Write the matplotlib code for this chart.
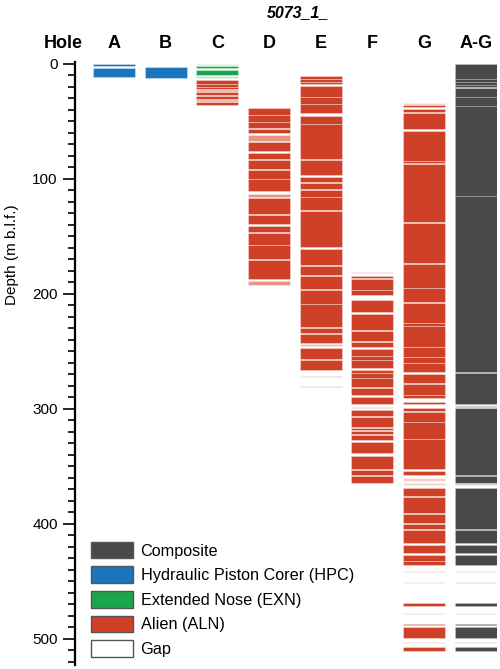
import matplotlib
matplotlib.use('Agg')
import matplotlib.pyplot as plt
from matplotlib.patches import Patch
from matplotlib.transforms import blended_transform_factory

plt.rcParams['font.family'] = ['Liberation Sans', 'DejaVu Sans']

holes = ['A', 'B', 'C', 'D', 'E', 'F', 'G', 'A-G']

# recovered core intervals (top, bottom), m b.l.f.
hpc_a = [(0.3, 2.0), (3.5, 11.6)]
hpc_b = [(2.6, 12.7)]

exn_c = [(2.3, 4.0), (5.5, 10.2)]
exn_c_faint = [(0.0, 0.9), (10.7, 12.4)]
aln_c = [(14.2, 17.2), (17.7, 19.8), (20.3, 22.1), (22.6, 24.1), (24.6, 27.6),
         (28.1, 31.0), (31.5, 32.8), (33.3, 35.6)]

aln_d = [(38.5, 44.3), (44.3, 50.9), (50.9, 55.8), (56.7, 60.2), (68.3, 76.1),
         (77.5, 82.8), (83.6, 91.4), (92.3, 100.5), (100.5, 111.1), (116.9, 130.5),
         (131.7, 139.2), (140.9, 146.1), (147.0, 158.0), (158.0, 170.1),
         (171.0, 186.9)]
aln_d_faint = [(62.2, 66.8), (113.7, 115.7), (188.9, 192.4)]

aln_e = [(11.0, 13.3), (13.3, 16.2), (16.2, 17.6), (19.7, 28.6), (28.6, 35.0),
         (35.0, 42.5), (45.4, 52.4), (52.4, 82.8), (83.3, 97.2), (98.1, 103.2),
         (103.9, 108.8), (110.0, 115.5), (116.3, 127.0), (127.9, 159.4),
         (160.9, 175.3), (176.2, 184.0), (184.9, 196.3), (197.0, 208.6),
         (208.6, 229.2), (230.0, 234.1), (235.5, 242.8), (247.7, 257.2),
         (258.1, 266.5)]
aln_e_faint = [(244.2, 245.4), (271.7, 272.6), (280.5, 281.5)]

aln_f = [(184.6, 186.3), (187.5, 196.5), (197.0, 201.1), (205.2, 215.9),
         (217.3, 231.8), (232.9, 241.0), (242.2, 246.8), (248.0, 254.1),
         (254.1, 257.8), (257.8, 265.0), (266.5, 269.4), (269.4, 273.7),
         (273.7, 281.0), (282.4, 288.5), (289.6, 296.0), (301.5, 306.4),
         (307.6, 316.0), (316.8, 318.6), (319.4, 322.0), (322.6, 327.0),
         (328.7, 338.8), (340.9, 352.4), (353.3, 357.6), (358.8, 364.3)]
aln_f_faint = [(181.1, 182.3), (298.6, 299.8)]

aln_g = [(36.2, 37.9), (39.6, 42.0), (43.1, 57.0), (58.2, 84.2), (84.8, 86.6),
         (87.3, 138.0), (138.6, 173.3), (173.8, 194.7), (195.2, 207.2),
         (207.7, 225.4), (225.9, 228.0), (228.5, 246.2), (246.7, 254.9),
         (255.4, 260.1), (260.6, 268.5), (270.0, 278.0), (278.5, 288.2),
         (288.2, 290.5), (294.0, 296.3), (299.8, 302.1), (303.2, 311.8),
         (311.8, 326.6), (326.6, 352.4), (353.9, 357.6), (369.2, 376.4),
         (376.8, 390.9), (391.3, 399.6), (400.0, 404.8), (406.0, 417.0),
         (418.4, 425.6), (427.1, 432.9), (432.9, 436.3), (469.0, 471.4),
         (487.0, 488.4), (489.9, 499.4), (507.5, 510.5)]
aln_g_faint = [(34.4, 35.6), (360.0, 362.8), (364.9, 366.3), (441.6, 442.2),
               (448.8, 449.4), (450.8, 451.4), (454.0, 454.6), (474.8, 475.4),
               (477.7, 478.3), (502.9, 503.5)]

composite = [(0.0, 13.0), (13.6, 15.6), (16.2, 18.3), (18.9, 20.4), (21.0, 28.6),
             (28.6, 36.5), (36.5, 115.2), (115.2, 268.0), (268.6, 295.8),
             (299.8, 357.6), (358.8, 364.3), (369.2, 404.8), (405.6, 417.0),
             (418.4, 425.6), (427.1, 436.3), (469.0, 471.4), (487.0, 488.4),
             (489.9, 499.4), (507.5, 510.5)]
composite_faint = [(297.0, 299.2), (364.9, 366.3), (441.6, 442.2), (448.8, 449.4),
                   (450.8, 451.4), (454.0, 454.6), (474.8, 475.4), (477.7, 478.3),
                   (502.9, 503.5)]

c_comp = '#48494b'
c_hpc = '#1a75bc'
c_exn = '#1aa64a'
c_aln = '#cf4029'

legend_labels = ['Composite', 'Hydraulic Piston Corer (HPC)', 'Extended Nose (EXN)',
                 'Alien (ALN)', 'Gap']
legend_colors = [c_comp, c_hpc, c_exn, c_aln, 'white']


def draw(ax, x, intervals, color, alpha=1.0, edge_alpha=0.45):
    tops = [t for t, b in intervals]
    lens = [b - t for t, b in intervals]
    bars = ax.bar([x] * len(intervals), lens, bottom=tops, width=0.81,
                  color=color, linewidth=0.5)
    for b in bars:
        b.set_facecolor(matplotlib.colors.to_rgba(color, alpha))
        b.set_edgecolor((1, 1, 1, edge_alpha))


fig = plt.figure(figsize=(5, 6.69), dpi=100)
ax = fig.add_axes([0.15, 0.006, 0.844, 0.9013])

draw(ax, 0, hpc_a, c_hpc)
draw(ax, 1, hpc_b, c_hpc)
draw(ax, 2, exn_c, c_exn)
draw(ax, 2, exn_c_faint, c_exn, 0.3)
draw(ax, 2, aln_c, c_aln)
draw(ax, 3, aln_d, c_aln)
draw(ax, 3, aln_d_faint, c_aln, 0.55)
draw(ax, 4, aln_e, c_aln)
draw(ax, 4, aln_e_faint, c_aln, 0.35)
draw(ax, 5, aln_f, c_aln)
draw(ax, 5, aln_f_faint, c_aln, 0.35)
draw(ax, 6, aln_g, c_aln)
draw(ax, 6, aln_g_faint, c_aln, 0.25)
draw(ax, 7, composite, c_comp, edge_alpha=0.22)
draw(ax, 7, composite_faint, c_comp, 0.25)

ax.set_xlim(-0.754, 7.41)
ax.set_ylim(523, -1.5)

for s in ['top', 'right', 'bottom']:
    ax.spines[s].set_visible(False)
ax.spines['left'].set_linewidth(1.6)
ax.set_xticks([])
ax.set_yticks([0, 100, 200, 300, 400, 500])
ax.set_yticks(range(0, 521, 10), minor=True)
ax.tick_params(axis='y', which='major', length=8.5, width=1.2, labelsize=11, pad=4)
ax.tick_params(axis='y', which='minor', length=5, width=1.2)
ax.set_ylabel('Depth (m b.l.f.)', fontsize=11)
ax.yaxis.set_label_coords(-0.132, 0.68)

tr = blended_transform_factory(ax.transData, ax.transAxes)
for i, h in enumerate(holes):
    ax.text(i, 1.0237, h, transform=tr, ha='center', va='baseline',
            fontsize=13, fontweight='bold')
ax.text(-0.99, 1.0237, 'Hole', transform=tr, ha='center', va='baseline',
        fontsize=13, fontweight='bold')

fig.text(0.596, 1 - 17.3 / 669, '5073_1_', ha='center', va='baseline',
         fontsize=11.5, fontweight='bold', fontstyle='italic')

handles = [Patch(facecolor=c, edgecolor='#555555', linewidth=1, label=l)
           for c, l in zip(legend_colors, legend_labels)]
ax.legend(handles=handles, loc='lower left', bbox_to_anchor=(0.038, 0.0133),
          frameon=False, fontsize=11.7, handlelength=2.6, handleheight=1.2,
          labelspacing=0.48, handletextpad=0.45, borderpad=0, borderaxespad=0)

fig.savefig('out.png', dpi=100)
